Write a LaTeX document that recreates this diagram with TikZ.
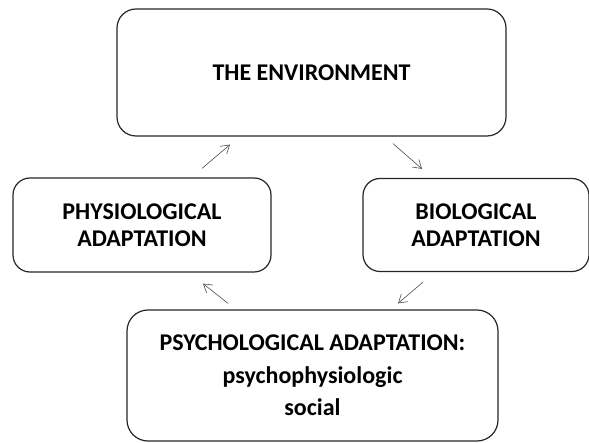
\documentclass[tikz,border=0pt]{standalone}
\usepackage{fontspec}
\setmainfont{Carlito}
\usetikzlibrary{calc,arrows.meta}
\tikzset{
	box/.style={draw=black!85, line width=1.2pt, rounded corners=19pt, align=center, font=\fontsize{24}{26.5}\selectfont\bfseries, inner sep=0pt},
	arr/.style={draw=black!70, line width=0.6pt, -{Straight Barb[length=8pt,width=10pt]}}
}

\begin{document}
\begin{tikzpicture}[x=1pt, y=-1pt]
			%%%%% START %%%%%
			
			\useasboundingbox (0, 0) rectangle (589, 443);
			
			\node[box, minimum width=389pt, minimum height=127pt] (env) at (311.5, 72.5) {THE ENVIRONMENT};
			\node[box, minimum width=258pt, minimum height=94pt, rounded corners=17pt] (physio) at (142, 225) {PHYSIOLOGICAL\\ADAPTATION};
			\node[box, minimum width=226pt, minimum height=93pt, rounded corners=17pt] (bio) at (476, 225) {BIOLOGICAL\\ADAPTATION};
			\node[box, minimum width=371pt, minimum height=131pt, rounded corners=21pt] (psych) at (312.5, 375.5) {PSYCHOLOGICAL ADAPTATION:\\[6pt]psychophysiologic\\[6pt]social};
			
			\draw[arr] ($(physio.north)+(60, -9)$) -- ($(env.south)+(-81.5, 8)$);
			\draw[arr] ($(env.south)+(81.5, 7)$) -- ($(bio.north)+(-54, -9)$);
			\draw[arr] ($(bio.south)+(-53, 10)$) -- ($(psych.north)+(85.5, -6)$);
			\draw[arr] ($(psych.north)+(-84.5, -6)$) -- ($(physio.south)+(61, 11)$);
			
			%%%%% END %%%%%
		\end{tikzpicture}
\end{document}
